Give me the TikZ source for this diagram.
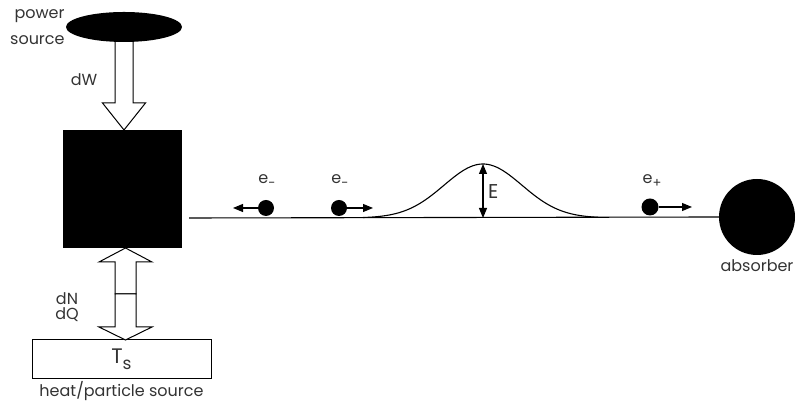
\documentclass[tikz,border=0pt]{standalone}
\usepackage{fontspec}
\setmainfont{Poppins}
\usetikzlibrary{shapes.geometric,arrows.meta,positioning,calc}
\definecolor{labelgray}{HTML}{333333}
\newcommand{\lowsub}[1]{\raisebox{-0.3em}{\fontsize{13}{13}\selectfont #1}}
\begin{document}
\begin{tikzpicture}[
    x=1pt, y=1pt,
    every node/.style={font=\fontsize{16}{18}\selectfont, text=labelgray},
    hollowarrow/.style={draw, fill=white, line width=1pt, line join=miter},
    particle/.style={circle, fill=black, minimum size=16pt, inner sep=0pt},
    push/.style={-{Triangle[length=10pt,width=8pt]}, line width=1.1pt},
    both/.style={{Triangle[length=10pt,width=8pt]}-{Triangle[length=10pt,width=8pt]}, line width=1.1pt},
    wire/.style={line width=1.1pt}
]
\useasboundingbox (0,0) rectangle (798,403);

% sources and the black box
\node[ellipse, fill=black, minimum width=116pt, minimum height=30pt] (power) at (124,376) {};
\node[anchor=east, align=right, inner sep=1pt, font=\fontsize{16}{26}\selectfont] at (power.west) {power\\source};
\node[fill=black, minimum width=119pt, minimum height=118pt, inner sep=0pt] (box) at (122.5,214) {};
\node[draw, line width=1pt, minimum width=179pt, minimum height=39pt, inner sep=0pt,
      font=\fontsize{21}{23}\selectfont] (bath) at (121.5,44) {T\raisebox{-0.3em}{\fontsize{17}{17}\selectfont s}};
\node[below=0pt of bath, inner sep=2pt] {heat/particle source};

% work flowing in
\coordinate (wtip) at (124,273);
\draw[hollowarrow] ($(power.south)+(-9,0)$) -- ($(wtip)+(-9,27)$) -- ($(wtip)+(-21.5,27)$)
    -- (wtip) -- ($(wtip)+(21.5,27)$) -- ($(wtip)+(9,27)$) -- ($(power.south)+(9,0)$);
\node at (84,323) {dW};

% particles and heat exchanged with the source
\coordinate (mid) at (125.5,109);
\coordinate (uptip) at (125.5,155);
\coordinate (downtip) at (125.5,63);
\draw[hollowarrow] ($(mid)+(-10.5,0)$) -- ($(uptip)+(-10.5,-14)$) -- ($(uptip)+(-26.5,-14)$)
    -- (uptip) -- ($(uptip)+(26.5,-14)$) -- ($(uptip)+(10.5,-14)$) -- ($(mid)+(10.5,0)$) -- cycle;
\draw[hollowarrow] ($(mid)+(-10.5,0)$) -- ($(downtip)+(-10.5,13)$) -- ($(downtip)+(-26.5,13)$)
    -- (downtip) -- ($(downtip)+(26.5,13)$) -- ($(downtip)+(10.5,13)$) -- ($(mid)+(10.5,0)$) -- cycle;
\node[align=center, font=\fontsize{16}{15}\selectfont] at (67,96) {dN\\dQ};

% the lead and the absorber
\node[particle, minimum size=76pt] (absorber) at (757,186) {};
\node[below=1pt of absorber] {absorber};
\coordinate (lead) at (189,185);
\draw[wire] (lead) -- (absorber.west);

% carriers
\node[particle] (eleft) at (266,195) {};
\node[particle] (eright) at (339,195) {};
\node[particle, minimum size=17pt] (epos) at (650,196) {};
\coordinate (eleftgo) at (233,195);
\coordinate (erightgo) at (373,195);
\coordinate (eposgo) at (692,196);
\draw[push] (eleft) -- (eleftgo);
\draw[push] (eright) -- (erightgo);
\draw[push] (epos) -- (eposgo);
\node at (267,222) {e\lowsub{-}};
\node at (340,222) {e\lowsub{-}};
\node at (652,222) {e\lowsub{+}};

% energy bump
\draw[wire, domain=363:598, samples=80, smooth] plot (\x, {185+54*exp(-((\x-483)/39)^2/2)});
\coordinate (peak) at (483,239);
\coordinate (base) at (483,185);
\draw[both] (base) -- (peak);
\node[anchor=west, inner sep=2pt, font=\fontsize{20}{22}\selectfont] at (486,211) {E};
\end{tikzpicture}
\end{document}
